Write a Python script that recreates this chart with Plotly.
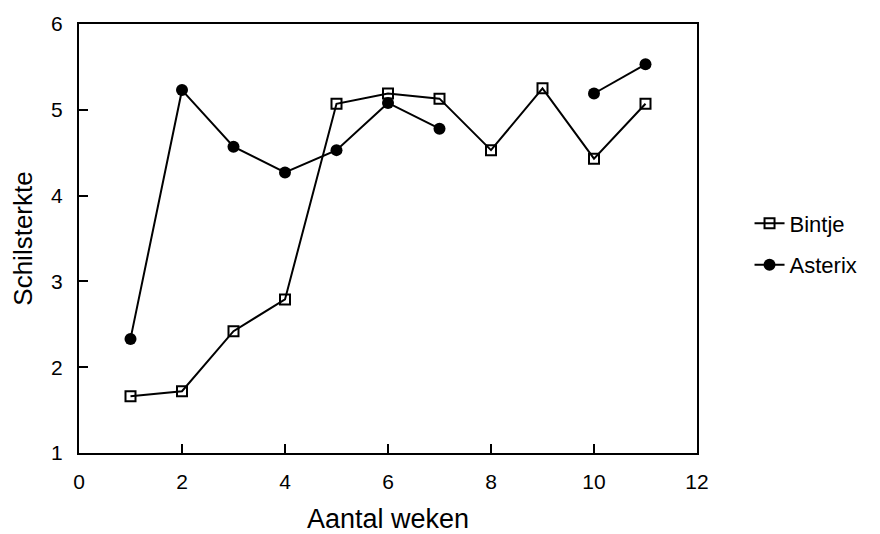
import plotly.graph_objects as go

weeks = [1, 2, 3, 4, 5, 6, 7, 8, 9, 10, 11]
bintje = [1.66, 1.72, 2.42, 2.79, 5.07, 5.19, 5.13, 4.53, 5.25, 4.43, 5.07]
asterix = [2.33, 5.23, 4.57, 4.27, 4.53, 5.08, 4.78, None, None, 5.19, 5.53]

x_ticks = [0, 2, 4, 6, 8, 10, 12]
y_ticks = [1, 2, 3, 4, 5, 6]

FONT = "Liberation Sans, Arial, Helvetica, sans-serif"

fig = go.Figure()
fig.add_trace(go.Scatter(
    x=weeks, y=bintje, name="Bintje", mode="lines+markers",
    line=dict(color="black", width=2),
    marker=dict(symbol="square-open", size=10, color="black", line=dict(width=2)),
    connectgaps=False, legendgroup="a",
))
fig.add_trace(go.Scatter(
    x=weeks, y=asterix, name="Asterix", mode="lines+markers",
    line=dict(color="black", width=2),
    marker=dict(symbol="circle", size=12, color="black"),
    connectgaps=False, legendgroup="b",
))

axis_common = dict(
    showgrid=False, zeroline=False, showline=True, linecolor="black", linewidth=2,
    mirror=True, ticks="inside", ticklen=9, tickwidth=1.5, tickcolor="black",
    tickfont=dict(family=FONT, size=21, color="black"), automargin=False,
)

fig.update_layout(
    width=872, height=526,
    margin=dict(l=71, r=183, t=16, b=81),
    paper_bgcolor="white", plot_bgcolor="white",
    font=dict(family=FONT, color="black"),
    xaxis=dict(range=[0, 12], tickvals=x_ticks, ticklabelstandoff=9, **axis_common,
               title=dict(text="Aantal weken", font=dict(family=FONT, size=27), standoff=18)),
    yaxis=dict(range=[1, 6], tickvals=y_ticks, ticklabelstandoff=10, **axis_common,
               title=dict(text="Schilsterkte", font=dict(family=FONT, size=26), standoff=12)),
    legend=dict(x=1.085, y=0.584, xanchor="left", yanchor="top",
                font=dict(family=FONT, size=22, color="black"),
                tracegroupgap=10, itemwidth=30, bgcolor="rgba(0,0,0,0)"),
)

fig.write_html("out.html")
